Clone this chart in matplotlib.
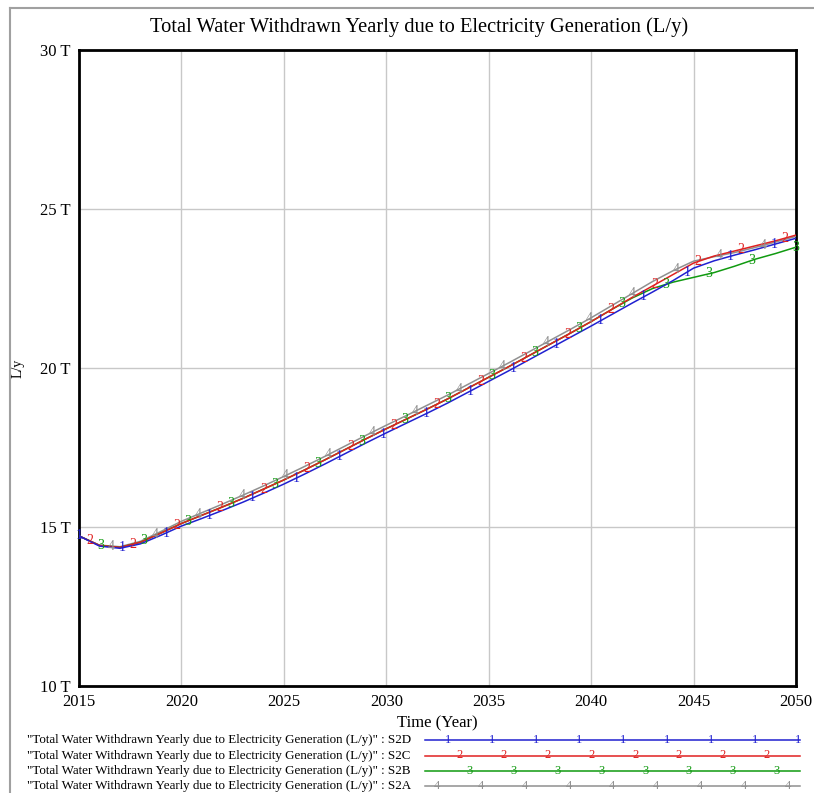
import matplotlib
matplotlib.use("Agg")
import matplotlib.pyplot as plt
from matplotlib.lines import Line2D
import numpy as np

years = list(range(2015, 2051))

# S2D (blue, "1")
s2d = [14.72, 14.40, 14.33, 14.47, 14.74, 15.03, 15.27, 15.52, 15.78, 16.06,
       16.35, 16.66, 16.98, 17.31, 17.64, 17.96, 18.27, 18.58, 18.90, 19.24,
       19.58, 19.92, 20.27, 20.62, 20.97, 21.32, 21.68, 22.04, 22.39, 22.75,
       23.14, 23.37, 23.55, 23.72, 23.90, 24.08]
# S2C (red, "2")
s2c = [14.72, 14.42, 14.36, 14.52, 14.81, 15.11, 15.37, 15.63, 15.90, 16.19,
       16.48, 16.79, 17.11, 17.44, 17.77, 18.09, 18.40, 18.71, 19.03, 19.37,
       19.71, 20.05, 20.40, 20.75, 21.10, 21.46, 21.84, 22.22, 22.58, 22.94,
       23.30, 23.52, 23.68, 23.84, 24.00, 24.18]
# S2B (green, "3")
s2b = [14.72, 14.42, 14.36, 14.52, 14.81, 15.11, 15.37, 15.63, 15.90, 16.19,
       16.48, 16.79, 17.11, 17.44, 17.77, 18.09, 18.40, 18.71, 19.03, 19.37,
       19.71, 20.05, 20.40, 20.75, 21.10, 21.46, 21.84, 22.20, 22.50, 22.70,
       22.85, 23.00, 23.20, 23.42, 23.60, 23.80]
# S2A (gray, "4")
s2a = [14.72, 14.43, 14.38, 14.55, 14.86, 15.18, 15.45, 15.72, 16.00, 16.29,
       16.59, 16.90, 17.22, 17.55, 17.88, 18.20, 18.51, 18.83, 19.15, 19.49,
       19.83, 20.17, 20.52, 20.87, 21.22, 21.58, 21.96, 22.34, 22.72, 23.06,
       23.36, 23.50, 23.63, 23.79, 23.96, 24.14]

series = [s2d, s2c, s2b, s2a]
names = ["S2D", "S2C", "S2B", "S2A"]
colors = ["#2020d0", "#e02020", "#109a10", "#909090"]
digits = ["1", "2", "3", "4"]
yticks = [10, 15, 20, 25, 30]
xticks = [2015, 2020, 2025, 2030, 2035, 2040, 2045, 2050]
label = '"Total Water Withdrawn Yearly due to Electricity Generation (L/y)" : '

plt.rcParams['font.family'] = ['Liberation Serif', 'DejaVu Serif']

fig = plt.figure(figsize=(8.14, 7.93), dpi=100)
ax = fig.add_axes([79/814, 1-686/793, (796-79)/814, (686-50)/793])

for i, (vals, c, d) in enumerate(zip(series, colors, digits)):
    ax.plot(years, vals, color=c, lw=1.1, zorder=3 - i*0.1)
    # numbered markers along the line, staggered between series
    mx = np.arange(2015 + 0.53*i, 2050.01, 2.12)
    my = np.interp(mx, years, vals)
    for a, b in zip(mx, my):
        ax.text(a, b, d, color=c, fontsize=10, ha="center", va="center",
                zorder=4 - i*0.1, clip_on=False)

ax.set_xlim(2015, 2050)
ax.set_ylim(10, 30)
ax.set_xticks(xticks)
ax.set_yticks(yticks)
ax.set_xticklabels([str(x) for x in xticks], fontsize=12)
ax.set_yticklabels(["%d T" % y for y in yticks], fontsize=12)
ax.tick_params(length=0, pad=6)
ax.grid(color="#c8c8c8", lw=1)
for sp in ax.spines.values():
    sp.set_linewidth(2)
ax.set_xlabel("Time (Year)", fontsize=12, labelpad=4)
fig.text(18/814, 1-368/793, "L/y", rotation=90, fontsize=10, va="center", ha="center")
fig.text(419/814, 1-27/793, "Total Water Withdrawn Yearly due to Electricity Generation (L/y)",
         fontsize=14.8, ha="center", va="center")

# outer frame
fig.add_artist(Line2D([10/814, 10/814], [0, 1-8/793], color="#a0a0a0", lw=1.5,
                      transform=fig.transFigure))
fig.add_artist(Line2D([10/814, 1], [1-8/793, 1-8/793], color="#a0a0a0", lw=1.5,
                      transform=fig.transFigure))

# legend
rows = [740, 755.5, 771, 786]
starts = [448, 460, 470, 437]
for i, (n, c, d) in enumerate(zip(names, colors, digits)):
    yy = 1 - rows[i]/793
    fig.text(27/814, yy, label + n, fontsize=9.4, va="center", ha="left")
    fig.add_artist(Line2D([425/814, 800/814], [yy, yy], color=c, lw=1.1,
                          transform=fig.transFigure))
    for k in range(9):
        xm = starts[i] + 43.8*k
        if xm <= 800:
            fig.text(xm/814, yy, d, color=c, fontsize=9, ha="center", va="center")

fig.savefig("out.png", dpi=100)
